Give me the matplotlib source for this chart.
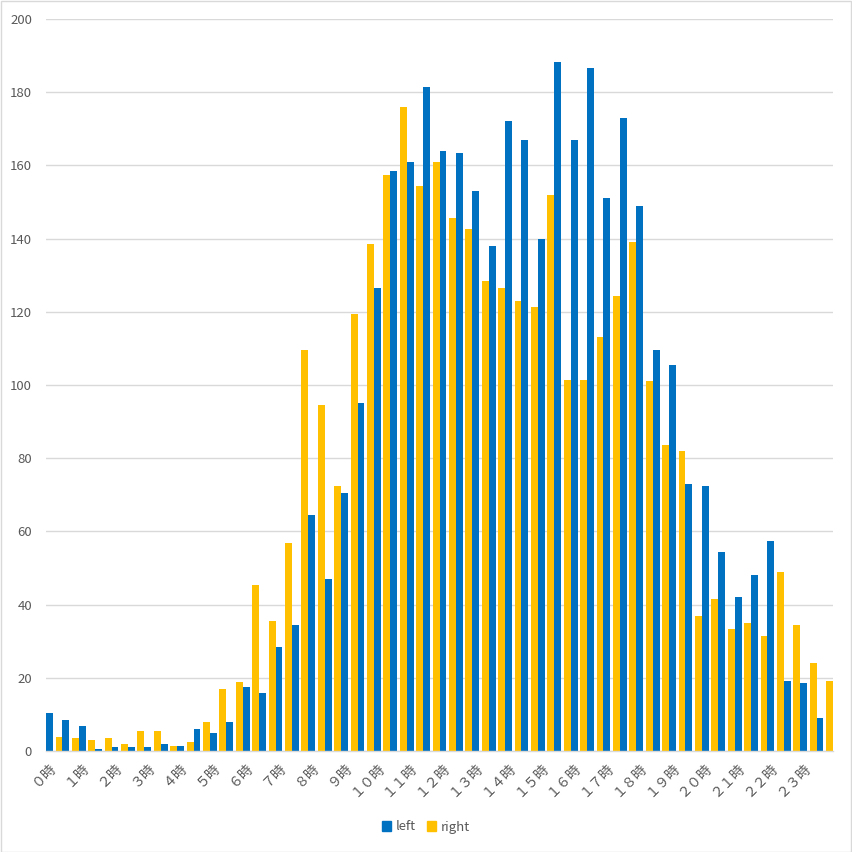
import numpy as np
import matplotlib
matplotlib.use("Agg")
import matplotlib.pyplot as plt
from matplotlib.patches import Rectangle, Patch

plt.rcParams['font.family'] = ['Noto Sans CJK JP', 'DejaVu Sans']

hours = ["０時", "１時", "２時", "３時", "４時", "５時", "６時", "７時", "８時", "９時",
         "１０時", "１１時", "１２時", "１３時", "１４時", "１５時", "１６時", "１７時",
         "１８時", "１９時", "２０時", "２１時", "２２時", "２３時"]
left = [10.4, 8.5, 6.8, 0.5, 1.1, 1.1, 1.1, 1.9, 1.4, 6.0, 4.9, 7.9,
        17.5, 15.9, 28.4, 34.4, 64.5, 47.0, 70.5, 95.0, 126.5, 158.5, 161.0, 181.5,
        164.0, 163.5, 153.0, 138.0, 172.0, 167.0, 140.0, 188.3, 167.0, 186.5, 151.0, 173.0,
        149.0, 109.5, 105.5, 73.0, 72.5, 54.5, 42.0, 48.0, 57.5, 19.0, 18.5, 9.0]
right = [3.8, 3.5, 3.0, 3.5, 1.9, 5.5, 5.5, 1.4, 2.5, 7.9, 16.9, 18.9,
         45.4, 35.5, 56.9, 109.5, 94.6, 72.5, 119.5, 138.5, 157.5, 176.0, 154.5, 161.0,
         145.5, 142.5, 128.5, 126.5, 123.0, 121.3, 152.0, 101.5, 101.5, 113.0, 124.2, 139.0,
         101.0, 83.5, 82.0, 37.0, 41.5, 33.2, 35.0, 31.5, 49.0, 34.5, 24.0, 19.0]
series_names = ["left", "right"]
colors = ["#0070C0", "#FFC000"]

W, H = 852, 852
fig = plt.figure(figsize=(W / 100, H / 100), dpi=100)
ax = fig.add_axes([46 / W, (H - 751) / H, 787 / W, 732 / H])

x = np.arange(len(left))
bw = 0.42
ax.bar(x - 0.29, left, width=bw, color=colors[0], zorder=3)
ax.bar(x + 0.29, right, width=bw, color=colors[1], zorder=3)

ax.set_xlim(-0.5, len(left) - 0.5)
ax.set_ylim(0, 200)
ax.set_yticks(np.arange(0, 201, 20))
ax.yaxis.grid(True, color="#d9d9d9", linewidth=1, zorder=0)
ax.tick_params(axis="y", length=0, pad=10, labelsize=9.5, labelcolor="#595959")

ax.set_xticks(x[::2])
ax.set_xticklabels(hours, rotation=45, ha="right", va="center",
                   rotation_mode="anchor", fontsize=10, color="#595959")
ax.tick_params(axis="x", length=0, pad=10)

for s in ["top", "right", "left"]:
    ax.spines[s].set_visible(False)
ax.spines["bottom"].set_color("#d9d9d9")
ax.spines["bottom"].set_linewidth(1)
ax.spines["bottom"].set_zorder(4)

handles = [Patch(color=c, label=n) for c, n in zip(colors, series_names)]
fig.legend(handles=handles, loc="center", bbox_to_anchor=(426 / W, 1 - 827 / H),
           ncol=2, frameon=False, fontsize=9.5, handlelength=0.7, handleheight=0.7,
           handletextpad=0.4, columnspacing=0.8, labelcolor="#595959")

fig.patches.append(Rectangle((0.5 / W, 0.5 / H), 1 - 1.5 / W, 1 - 1.5 / H,
                             transform=fig.transFigure, fill=False,
                             edgecolor="#d9d9d9", linewidth=1))

fig.savefig("out.png", dpi=100, facecolor="white")
